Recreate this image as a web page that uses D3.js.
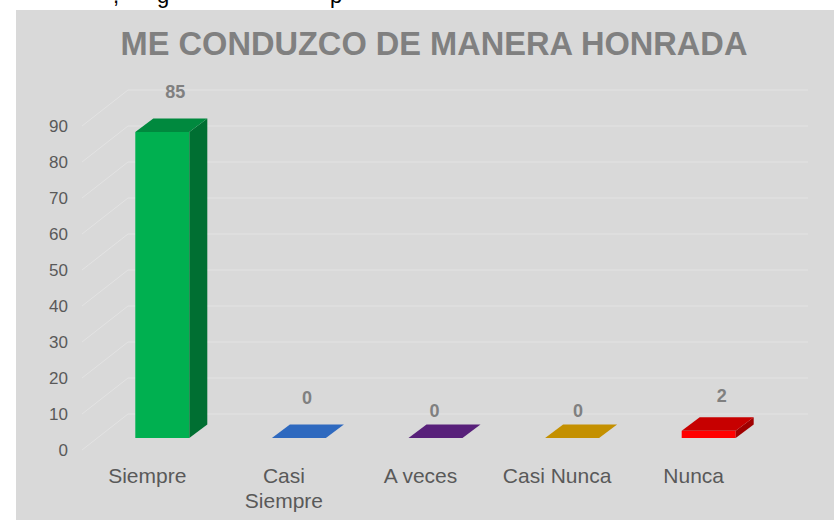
<!DOCTYPE html>
<html>
<head>
<meta charset="utf-8">
<script src="https://cdn.jsdelivr.net/npm/d3@7"></script>
<style>
  html, body { margin: 0; padding: 0; background: #ffffff; }
  svg { display: block; }
</style>
</head>
<body>
<svg id="chart" width="834" height="520"></svg>
<script>
// ---- data ----
const title = "ME CONDUZCO DE MANERA HONRADA";
const categories = ["Siempre", "Casi Siempre", "A veces", "Casi Nunca", "Nunca"];
const categoryLines = [["Siempre"], ["Casi", "Siempre"], ["A veces"], ["Casi Nunca"], ["Nunca"]];
const values = [85, 0, 0, 0, 2];
const yTicks = [0, 10, 20, 30, 40, 50, 60, 70, 80, 90];
const colors = ["#00b050", "#3b87f5", "#71299c", "#fbb900", "#ff0000"];
// stray fragments of the text line above the chart (cut off at top in the reference)
const strayText = [",", "g", "p"];

// ---- layout (not data) ----
const labelNudge = [[4, -7], [-1, -7], [-10, 6], [-3, 6], [4, -2]];
const strayX = [113, 157, 330];

const svg = d3.select("#chart");
const font = "'Liberation Sans', Arial, sans-serif";

// stray text above the chart
svg.selectAll("text.stray").data(strayText).join("text")
  .attr("class", "stray")
  .attr("x", (d, i) => strayX[i]).attr("y", 3)
  .attr("font-family", font).attr("font-size", 22).attr("fill", "#000")
  .text(d => d);

// chart area background
svg.append("rect").attr("x", 16).attr("y", 10).attr("width", 818).attr("height", 510)
  .attr("fill", "#d9d9d9");

// title
svg.append("text").attr("x", 434).attr("y", 55)
  .attr("text-anchor", "middle")
  .attr("font-family", font).attr("font-weight", "bold").attr("font-size", 32.6)
  .attr("fill", "#808080").text(title);

// scales
const x = d3.scaleBand().domain(categories).range([79, 762]);
const y = d3.scaleLinear().domain([0, 90]).range([450, 126]);

const wallLeft = 82, WX = 46, WY = -36, wallRight = 808;
const OX = 15, OY = -12;      // bar position inside the depth
const BX = 18, BY = -13.5;    // bar depth
const BW = 54;                // bar width

// gridlines (side wall diagonal + back wall horizontal)
svg.append("g").selectAll("path").data(yTicks).join("path")
  .attr("d", d => `M${wallLeft},${y(d)}L${wallLeft + WX},${y(d) + WY}L${wallRight},${y(d) + WY}`)
  .attr("fill", "none").attr("stroke", "#e3e3e3").attr("stroke-width", 1);

// y axis labels
const yAxis = d3.axisLeft(y).tickValues(yTicks).tickSize(0).tickPadding(0);
const gy = svg.append("g").attr("transform", "translate(68,0)").call(yAxis);
gy.select(".domain").remove();
gy.selectAll("text").attr("font-family", font).attr("font-size", 17).attr("fill", "#595959")
  .attr("x", 0).attr("dy", "0.35em");

// bars
const bars = svg.append("g").selectAll("g").data(categories).join("g");
bars.each(function (c, i) {
  const g = d3.select(this);
  const v = values[i];
  const col = d3.color(colors[i]);
  const x0 = x(c) + x.bandwidth() / 2 + OX - BW / 2;
  const bottom = y(0) + OY;
  const top = y(v) + OY;
  if (v > 0) {
    // front
    g.append("rect").attr("x", x0).attr("y", top).attr("width", BW).attr("height", bottom - top)
      .attr("fill", col.formatHex());
    // side
    g.append("path")
      .attr("d", `M${x0 + BW},${top}L${x0 + BW + BX},${top + BY}L${x0 + BW + BX},${bottom + BY}L${x0 + BW},${bottom}Z`)
      .attr("fill", col.darker(1.3).formatHex());
  }
  // top
  g.append("path")
    .attr("d", `M${x0},${top}L${x0 + BX},${top + BY}L${x0 + BW + BX},${top + BY}L${x0 + BW},${top}Z`)
    .attr("fill", col.darker(0.7).formatHex());
  // data label
  g.append("text")
    .attr("x", x0 + BW / 2 + BX / 2 + labelNudge[i][0])
    .attr("y", top + BY - 20 + labelNudge[i][1])
    .attr("dy", "0.35em")
    .attr("text-anchor", "middle")
    .attr("font-family", font).attr("font-weight", "bold").attr("font-size", 18)
    .attr("fill", "#808080").text(v);
});

// category labels
const cl = svg.append("g").selectAll("text").data(categories).join("text")
  .attr("x", d => x(d) + x.bandwidth() / 2)
  .attr("y", 483)
  .attr("text-anchor", "middle")
  .attr("font-family", font).attr("font-size", 21).attr("fill", "#595959");
cl.each(function (d, i) {
  const t = d3.select(this);
  categoryLines[i].forEach((line, k) => {
    t.append("tspan").attr("x", x(d) + x.bandwidth() / 2).attr("dy", k === 0 ? 0 : 25).text(line);
  });
});
</script>
</body>
</html>
